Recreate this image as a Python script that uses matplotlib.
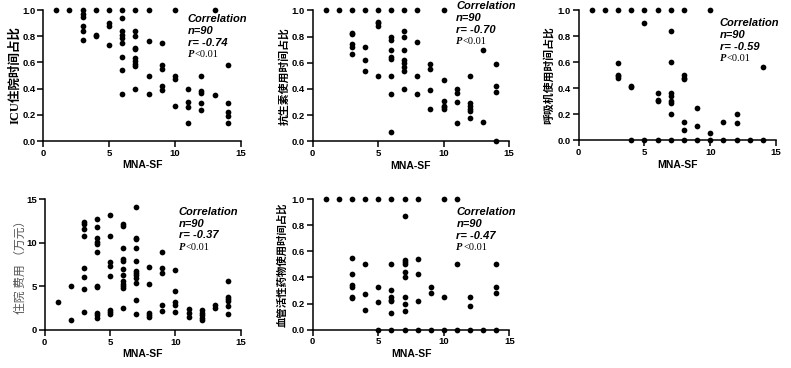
import matplotlib
matplotlib.use("Agg")
import matplotlib.pyplot as plt

plt.rcParams['font.family'] = ['Liberation Sans', 'Noto Sans CJK SC']
plt.rcParams['font.weight'] = 'bold'

# MNA-SF score vs outcome
icu_x = [1, 2, 3, 3, 3, 3, 3, 3, 4, 4, 4, 5, 5, 5, 5,
         6, 6, 6, 6, 6, 6, 6, 6, 6, 7, 7, 7, 7, 7, 7, 7, 7, 7, 7,
         8, 8, 8, 8, 9, 9, 9, 9, 9, 10, 10, 10, 10, 11, 11, 11, 11,
         12, 12, 12, 12, 12, 13, 13, 14, 14, 14, 14, 14]
icu_y = [1.0, 1.0, 1.0, 0.97, 0.95, 0.88, 0.84, 0.77, 1.0, 0.81, 0.80, 1.0, 0.90, 0.88, 0.73,
         1.0, 0.94, 0.84, 0.81, 0.79, 0.75, 0.64, 0.54, 0.36, 1.0, 0.84, 0.80, 0.71, 0.70, 0.63, 0.61, 0.59, 0.57, 0.40,
         1.0, 0.76, 0.50, 0.36, 0.75, 0.58, 0.55, 0.42, 0.39, 1.0, 0.50, 0.47, 0.27, 0.40, 0.30, 0.26, 0.14,
         0.50, 0.38, 0.37, 0.29, 0.24, 1.0, 0.35, 0.58, 0.29, 0.22, 0.19, 0.14]

abx_x = [1, 2, 3, 3, 3, 3, 3, 3, 4, 4, 4, 4, 5, 5, 5, 5, 5,
         6, 6, 6, 6, 6, 6, 6, 6, 6, 7, 7, 7, 7, 7, 7, 7, 7, 7,
         8, 8, 8, 8, 9, 9, 9, 9, 10, 10, 10, 10, 10, 10, 11, 11, 11, 11,
         12, 12, 12, 12, 12, 12, 13, 13, 14, 14, 14, 14]
abx_y = [1.0, 1.0, 1.0, 0.83, 0.82, 0.74, 0.72, 0.67, 1.0, 0.72, 0.62, 0.54, 1.0, 0.91, 0.90, 0.88, 0.50,
         1.0, 0.80, 0.77, 0.70, 0.64, 0.63, 0.50, 0.36, 0.07, 1.0, 0.84, 0.80, 0.70, 0.62, 0.60, 0.57, 0.54, 0.40,
         1.0, 0.76, 0.50, 0.36, 0.59, 0.55, 0.39, 0.25, 1.0, 0.47, 0.31, 0.27, 0.26, 0.25, 0.40, 0.37, 0.30, 0.14,
         0.50, 0.29, 0.27, 0.25, 0.23, 0.18, 0.70, 0.15, 0.59, 0.42, 0.38, 0.0]

vent_x = [1, 2, 3, 3, 3, 3, 3, 4, 4, 4, 4, 5, 5, 5,
          6, 6, 6, 6, 6, 7, 7, 7, 7, 7, 7, 7, 7, 7,
          8, 8, 8, 8, 8, 8, 8, 9, 9, 9, 10, 10, 10, 11, 11,
          12, 12, 12, 13, 14, 14]
vent_y = [1.0, 1.0, 1.0, 0.59, 0.50, 0.49, 0.48, 1.0, 0.42, 0.41, 0.0, 1.0, 0.90, 0.0,
          1.0, 0.36, 0.31, 0.30, 0.0, 1.0, 0.84, 0.60, 0.36, 0.34, 0.30, 0.29, 0.20, 0.0,
          1.0, 0.50, 0.48, 0.47, 0.14, 0.08, 0.0, 0.25, 0.11, 0.0, 1.0, 0.06, 0.0, 0.14, 0.0,
          0.20, 0.13, 0.0, 0.0, 0.56, 0.0]

cost_x = [1, 2, 2, 3, 3, 3, 3, 3, 3, 3, 3,
          4, 4, 4, 4, 4, 4, 4, 4, 4, 4, 4,
          5, 5, 5, 5, 5, 5, 5, 5,
          6, 6, 6, 6, 6, 6, 6, 6, 6, 6, 6, 6,
          7, 7, 7, 7, 7, 7, 7, 7, 7, 7, 7, 7,
          8, 8, 8, 8, 8, 9, 9, 9, 9, 9, 10, 10, 10, 10, 10,
          11, 11, 11, 12, 12, 12, 12, 12, 13, 13, 14, 14, 14, 14, 14, 14]
cost_y = [3.2, 5.1, 1.1, 12.4, 12.2, 11.6, 10.8, 7.1, 6.1, 4.7, 2.1,
          12.7, 11.8, 10.6, 10.1, 9.9, 8.9, 5.0, 4.9, 1.9, 1.7, 1.4,
          13.2, 10.8, 7.8, 7.3, 6.2, 2.3, 2.1, 1.8,
          12.2, 11.9, 9.4, 8.1, 7.9, 7.0, 6.3, 5.6, 5.3, 5.0, 4.8, 2.5,
          14.1, 10.6, 10.4, 9.4, 7.9, 6.8, 6.6, 6.3, 6.0, 5.4, 3.5, 1.8,
          7.2, 5.3, 2.0, 1.7, 1.5, 8.9, 7.1, 6.6, 2.9, 2.2, 6.9, 4.5, 3.2, 2.9, 2.1,
          2.4, 2.0, 1.5, 2.3, 2.0, 1.7, 1.4, 1.1, 2.9, 2.5, 5.6, 3.8, 3.6, 3.3, 2.7, 1.8]

vaso_x = [1, 2, 3, 3, 3, 3, 3, 3, 3, 4, 4, 4, 4, 5, 5, 5, 5,
          6, 6, 6, 6, 6, 6, 6, 6, 7, 7, 7, 7, 7, 7, 7, 7, 7, 7, 7,
          8, 8, 8, 8, 8, 9, 9, 9, 10, 10, 10, 11, 11, 11,
          12, 12, 12, 13, 14, 14, 14, 14]
vaso_y = [1.0, 1.0, 1.0, 0.55, 0.43, 0.34, 0.33, 0.25, 0.24, 1.0, 0.50, 0.27, 0.15, 1.0, 0.33, 0.21, 0.0,
          1.0, 0.50, 0.30, 0.25, 0.23, 0.22, 0.13, 0.0, 1.0, 0.87, 0.53, 0.52, 0.50, 0.44, 0.40, 0.25, 0.20, 0.14, 0.0,
          1.0, 0.54, 0.43, 0.22, 0.0, 0.33, 0.28, 0.0, 1.0, 0.25, 0.0, 1.0, 0.50, 0.0,
          0.25, 0.18, 0.0, 0.0, 0.50, 0.33, 0.28, 0.0]

ylabels = ['ICU住院时间占比', '抗生素使用时间占比', '呼吸机使用时间占比',
           '住院 费用 （万元）', '血管活性药物使用时间占比']
r_values = ['-0.74', '-0.70', '-0.59', '-0.37', '-0.47']

fig = plt.figure(figsize=(7.91, 3.68), dpi=100)

boxes = [
    [0.0544, 0.6168, 0.2503, 0.356],
    [0.3953, 0.6160, 0.2482, 0.356],
    [0.7316, 0.6187, 0.2494, 0.354],
    [0.0565, 0.1033, 0.2480, 0.355],
    [0.3953, 0.1041, 0.2488, 0.355],
]
data = [(icu_x, icu_y), (abx_x, abx_y), (vent_x, vent_y), (cost_x, cost_y), (vaso_x, vaso_y)]
# where the correlation block starts (axes fraction)
text_pos = [(0.73, 0.93), (0.73, 1.03), (0.716, 0.90), (0.684, 0.905), (0.73, 0.90)]
label_sizes = [9, 7.8, 7.8, 8.5, 7.5]
label_pads = [0.5, 2, 3, -0.5, 3]

for i in range(5):
    ax = fig.add_axes(boxes[i])
    x, y = data[i]
    ax.scatter(x, y, s=17, color='black', zorder=3, clip_on=False, linewidths=0)
    ax.set_xlim(0, 15)
    ax.set_xticks([0, 5, 10, 15])
    if i == 3:
        ax.set_ylim(0, 15)
        ax.set_yticks([0, 5, 10, 15])
    else:
        ax.set_ylim(0, 1)
        ax.set_yticks([0, 0.2, 0.4, 0.6, 0.8, 1.0])
        ax.set_yticklabels(['0.0', '0.2', '0.4', '0.6', '0.8', '1.0'])
    for s in ['top', 'right']:
        ax.spines[s].set_visible(False)
    for s in ['left', 'bottom']:
        ax.spines[s].set_linewidth(1.1)
    ax.tick_params(width=1.1, length=4, labelsize=6.8, pad=1.5)
    for lab in ax.get_xticklabels() + ax.get_yticklabels():
        lab.set_fontweight('bold')
    ax.set_xlabel('MNA-SF', fontsize=7.5, fontweight='bold', labelpad=2)
    if i == 3:
        ax.set_ylabel(ylabels[i], fontsize=label_sizes[i], fontweight='normal', color='#555555',
                      family=['Noto Sans CJK SC'], labelpad=label_pads[i])
    else:
        ax.set_ylabel(ylabels[i], fontsize=label_sizes[i], fontweight='bold',
                      family=['Liberation Serif', 'Noto Sans CJK SC'], labelpad=label_pads[i])

    tx, ty = text_pos[i]
    step = 0.09
    ax.text(tx, ty, 'Correlation', transform=ax.transAxes, fontsize=8,
            style='italic', fontweight='bold', va='center')
    ax.text(tx, ty - step, 'n=90', transform=ax.transAxes, fontsize=8,
            style='italic', fontweight='bold', va='center')
    ax.text(tx, ty - 2 * step, 'r= ' + r_values[i], transform=ax.transAxes, fontsize=8,
            style='italic', fontweight='bold', va='center')
    ax.text(tx, ty - 3 * step, 'P', transform=ax.transAxes, fontsize=7.5,
            style='italic', fontweight='bold', family=['Liberation Serif'], va='center')
    ax.annotate('<0.01', xy=(tx, ty - 3 * step), xycoords='axes fraction',
                xytext=(5, 0), textcoords='offset points', fontsize=7.5,
                fontweight='normal', family=['Liberation Serif'], va='center')

fig.savefig('out.png', dpi=100)
